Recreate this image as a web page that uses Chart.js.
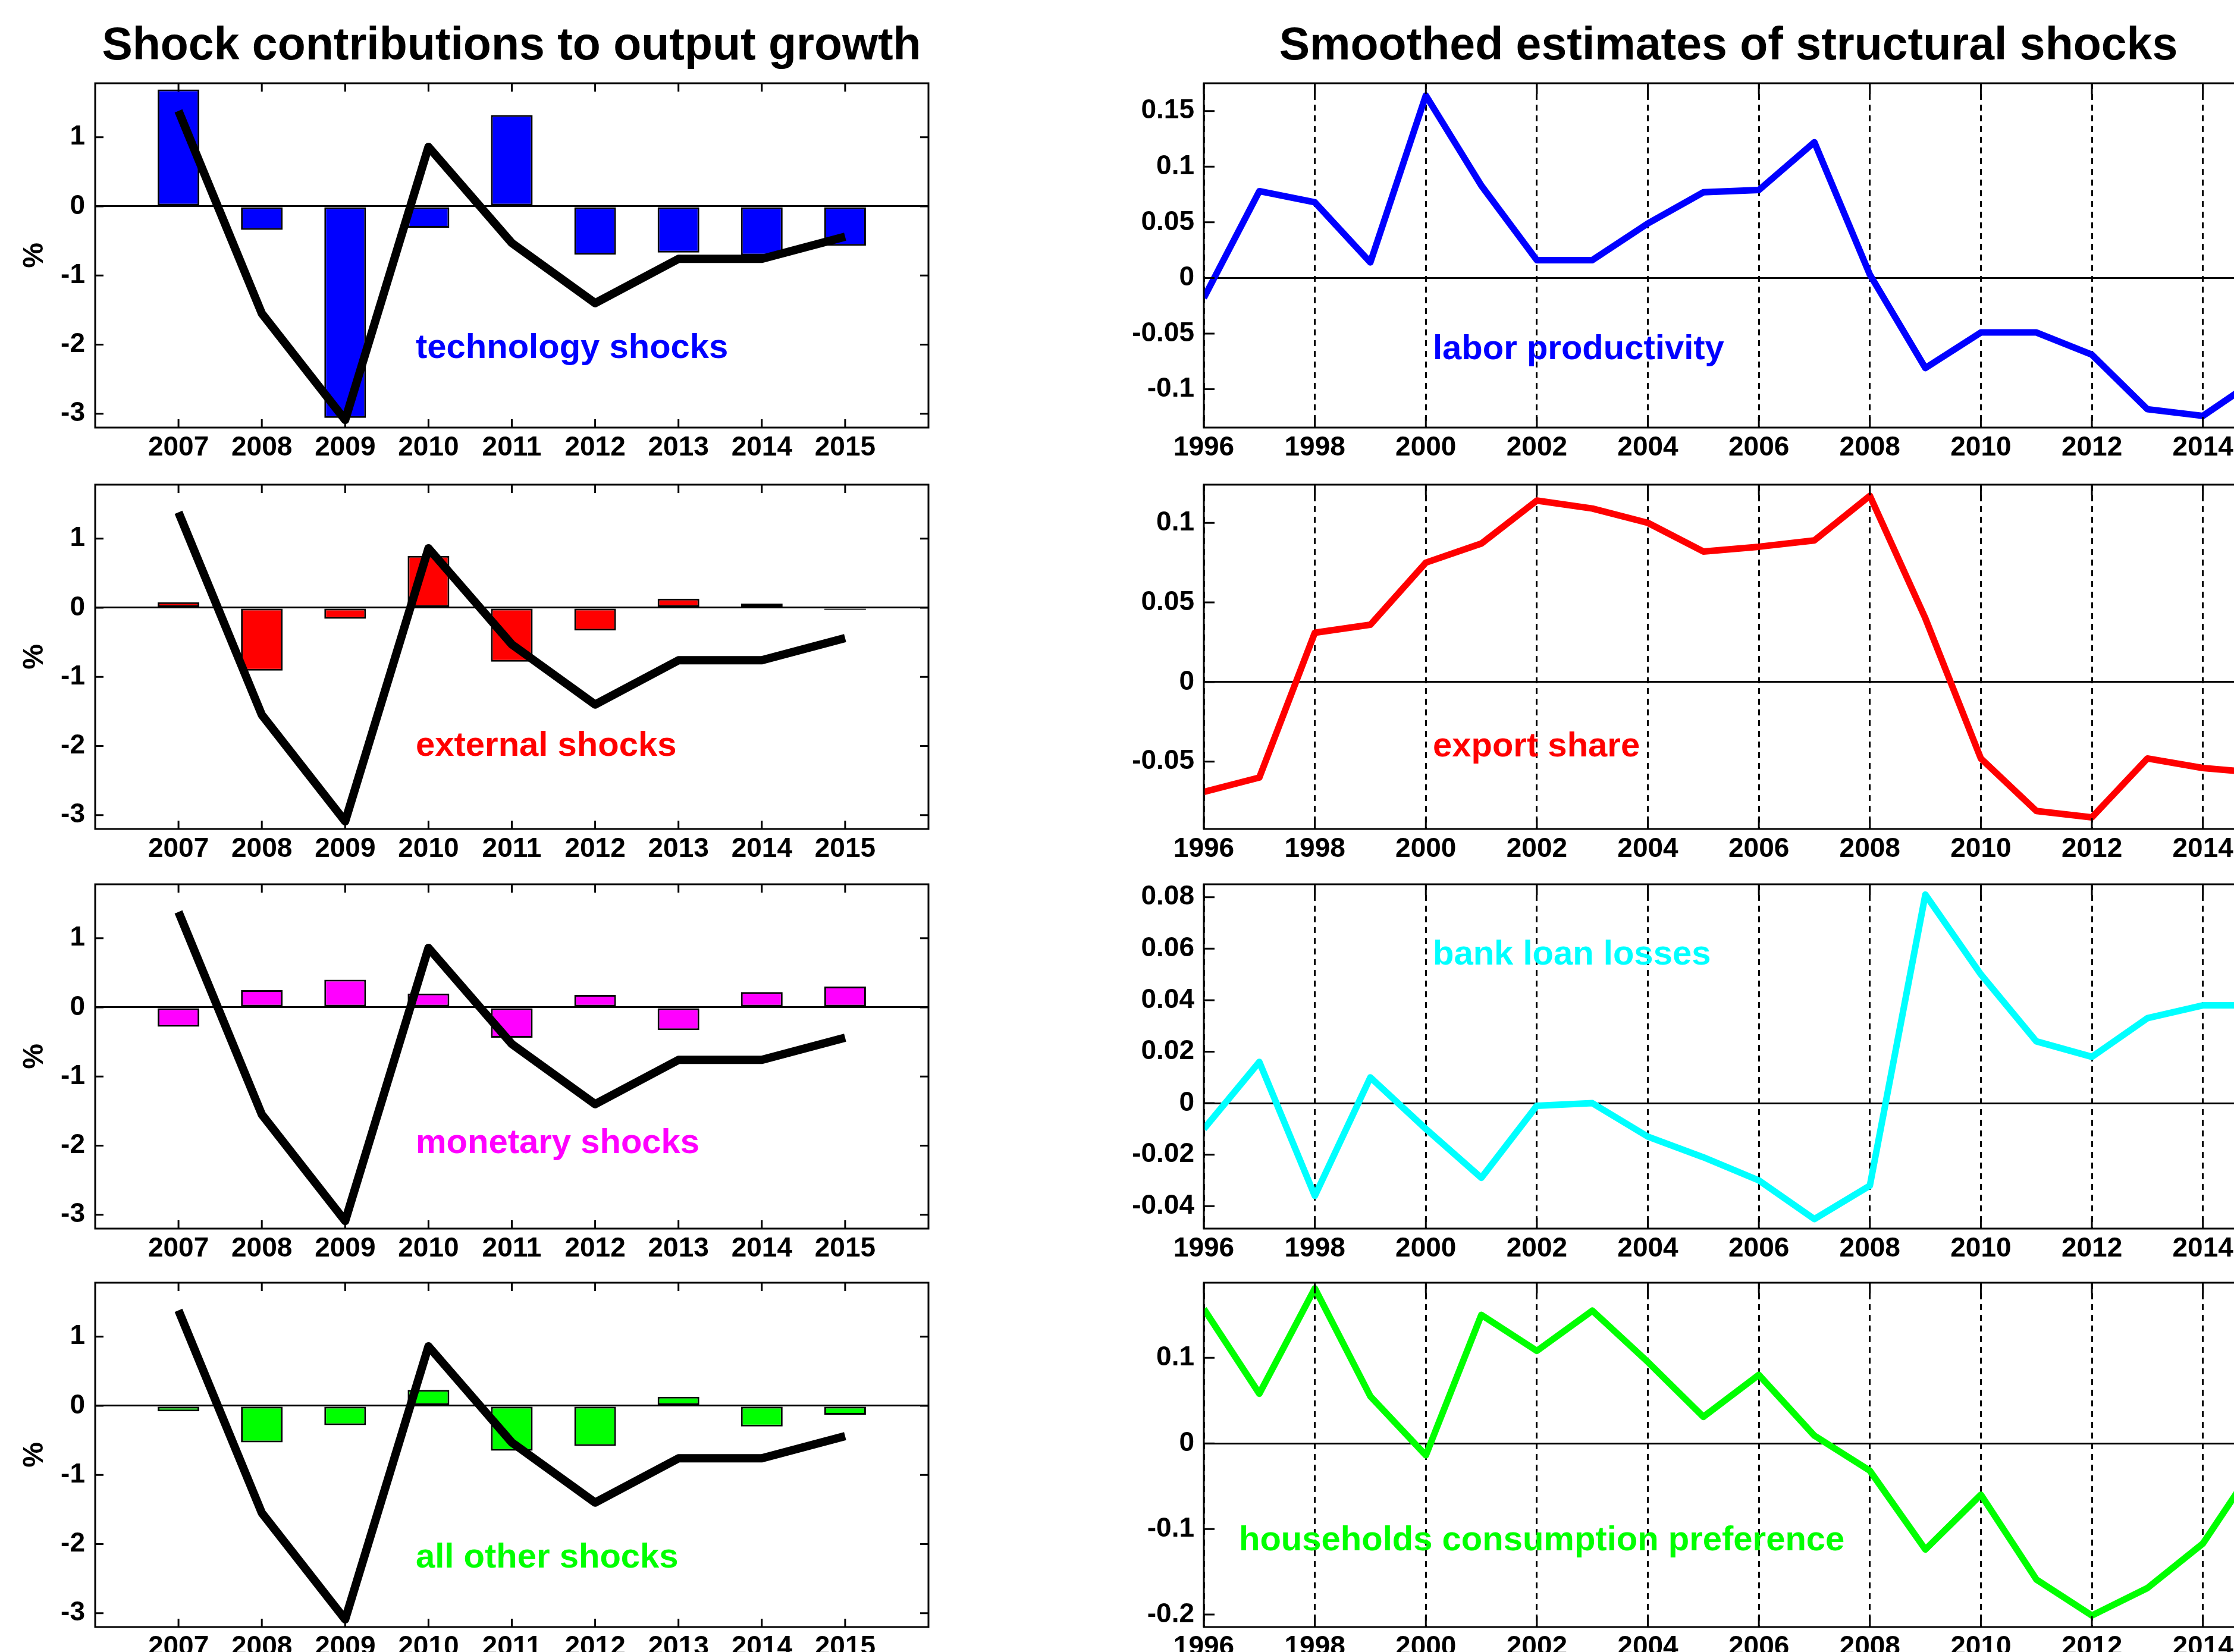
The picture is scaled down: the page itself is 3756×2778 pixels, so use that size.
<!DOCTYPE html>
<html>
<head>
<meta charset="utf-8">
<script src="https://cdn.jsdelivr.net/npm/chart.js@4.4.1/dist/chart.umd.min.js"></script>
<style>
html,body{margin:0;padding:0;background:#fff;overflow:hidden;width:3756px;height:2778px;position:relative}
canvas{position:absolute}
.t{position:absolute;font-family:"Liberation Sans",Arial,Helvetica,sans-serif;font-weight:bold;white-space:nowrap;line-height:1}
</style>
</head>
<body>
<div class="t" style="left:0;width:1720px;text-align:center;top:35px;font-size:77px;color:#000">Shock contributions to output growth</div>
<div class="t" style="left:1906px;width:2000px;text-align:center;top:35px;font-size:77px;color:#000">Smoothed estimates of structural shocks</div>

<canvas id="L1" width="1600" height="689" style="left:0;top:120px"></canvas>
<canvas id="L2" width="1600" height="689" style="left:0;top:795px"></canvas>
<canvas id="L3" width="1600" height="689" style="left:0;top:1467px"></canvas>
<canvas id="L4" width="1600" height="689" style="left:0;top:2137px"></canvas>
<canvas id="R1" width="1987" height="689" style="left:1850px;top:120px"></canvas>
<canvas id="R2" width="1987" height="689" style="left:1850px;top:795px"></canvas>
<canvas id="R3" width="1987" height="689" style="left:1850px;top:1467px"></canvas>
<canvas id="R4" width="1987" height="689" style="left:1850px;top:2137px"></canvas>

<div class="t" style="left:699px;top:553px;font-size:58px;color:#0000FF">technology shocks</div>
<div class="t" style="left:699px;top:1222px;font-size:58px;color:#FF0000">external shocks</div>
<div class="t" style="left:699px;top:1890px;font-size:58px;color:#FF00FF">monetary shocks</div>
<div class="t" style="left:699px;top:2587px;font-size:58px;color:#00FF00">all other shocks</div>
<div class="t" style="left:2409px;top:555px;font-size:58px;color:#0000FF">labor productivity</div>
<div class="t" style="left:2409px;top:1223px;font-size:58px;color:#FF0000">export share</div>
<div class="t" style="left:2409px;top:1573px;font-size:58px;color:#00FFFF">bank loan losses</div>
<div class="t" style="left:2083px;top:2558px;font-size:58px;color:#00FF00">households consumption preference</div>

<script>
// ---------- data ----------
const yearsLeft = [2007, 2008, 2009, 2010, 2011, 2012, 2013, 2014, 2015];
const outputGrowth = [1.38, -1.55, -3.09, 0.86, -0.53, -1.40, -0.76, -0.76, -0.44];
const technologyShocks = [1.69, -0.34, -3.06, -0.31, 1.32, -0.70, -0.67, -0.71, -0.57];
const externalShocks = [0.08, -0.91, -0.16, 0.75, -0.78, -0.33, 0.13, 0.06, -0.03];
const monetaryShocks = [-0.28, 0.25, 0.40, 0.20, -0.44, 0.18, -0.33, 0.22, 0.30];
const otherShocks = [-0.08, -0.53, -0.28, 0.23, -0.65, -0.58, 0.13, -0.30, -0.13];

const yearsRight = [1996, 1997, 1998, 1999, 2000, 2001, 2002, 2003, 2004, 2005,
                    2006, 2007, 2008, 2009, 2010, 2011, 2012, 2013, 2014, 2015];
const laborProductivity = [-0.018, 0.078, 0.068, 0.014, 0.164, 0.083, 0.016, 0.016, 0.049, 0.077,
                           0.079, 0.122, 0.003, -0.081, -0.049, -0.049, -0.069, -0.118, -0.124, -0.090];
const exportShare = [-0.069, -0.060, 0.031, 0.036, 0.075, 0.087, 0.114, 0.109, 0.100, 0.082,
                     0.085, 0.089, 0.117, 0.040, -0.048, -0.081, -0.085, -0.048, -0.054, -0.057];
const bankLoanLosses = [-0.010, 0.016, -0.036, 0.010, -0.010, -0.029, -0.001, 0.000, -0.013, -0.021,
                        -0.030, -0.045, -0.032, 0.081, 0.050, 0.024, 0.018, 0.033, 0.038, 0.038];
const consumptionPreference = [0.157, 0.058, 0.181, 0.055, -0.014, 0.150, 0.108, 0.155, 0.095, 0.031,
                               0.080, 0.009, -0.032, -0.124, -0.060, -0.159, -0.201, -0.169, -0.117, -0.020];

const leftYTicks = [-3, -2, -1, 0, 1];
const rightXTicks = [1996, 1998, 2000, 2002, 2004, 2006, 2008, 2010, 2012, 2014];
const laborTicks = [-0.1, -0.05, 0, 0.05, 0.1, 0.15];
const exportTicks = [-0.05, 0, 0.05, 0.1];
const bankTicks = [-0.04, -0.02, 0, 0.02, 0.04, 0.06, 0.08];
const consumptionTicks = [-0.2, -0.1, 0, 0.1];

// ---------- styling helpers ----------
const FONT = '"Liberation Sans", Arial, Helvetica, sans-serif';
const tickFont = {family: FONT, size: 46, weight: 'bold'};

const framePlugin = {
  id: 'frame',
  afterDatasetsDraw(chart, args, opts) {
    const {ctx, chartArea: a} = chart;
    const x = chart.scales.x, y = chart.scales.y;
    const L = opts.tickLen || 14;
    ctx.save();
    ctx.setLineDash([]);
    ctx.strokeStyle = '#000';
    ctx.lineWidth = 3;
    ctx.strokeRect(a.left, a.top, a.right - a.left, a.bottom - a.top);
    ctx.beginPath();
    x.ticks.forEach(t => {
      const px = x.getPixelForValue(t.value);
      ctx.moveTo(px, a.bottom); ctx.lineTo(px, a.bottom - L);
      ctx.moveTo(px, a.top); ctx.lineTo(px, a.top + L);
    });
    y.ticks.forEach(t => {
      const py = y.getPixelForValue(t.value);
      ctx.moveTo(a.left, py); ctx.lineTo(a.left + L, py);
      ctx.moveTo(a.right, py); ctx.lineTo(a.right - L, py);
    });
    ctx.stroke();
    ctx.restore();
  }
};

const zeroLine = c => (c.tick && c.tick.value === 0) ? '#000' : 'rgba(0,0,0,0)';
const pts = (xs, ys) => xs.map((v, i) => ({x: v, y: ys[i]}));
const fitX = s => { s.height = 90; s.paddingLeft = 0; s.paddingRight = 0; s.paddingTop = 0; s.paddingBottom = 0; };
const fitY = w => s => { s.width = w; s.paddingLeft = 0; s.paddingRight = 0; s.paddingTop = 0; s.paddingBottom = 0; };

function leftPanel(id, shocks, color) {
  new Chart(document.getElementById(id), {
    type: 'bar',
    data: {
      datasets: [
        {type: 'line', data: pts(yearsLeft, outputGrowth), borderColor: '#000', borderWidth: 14,
         pointRadius: 0, tension: 0, fill: false, borderJoinStyle: 'round', borderCapStyle: 'butt', order: 0},
        {type: 'bar', data: pts(yearsLeft, shocks), backgroundColor: color, borderColor: '#000',
         borderWidth: 3, borderSkipped: false, barPercentage: 0.5, categoryPercentage: 1, order: 1}
      ]
    },
    options: {
      responsive: false, animation: false, devicePixelRatio: 1,
      layout: {padding: {top: 20, right: 39, left: 0, bottom: 0}},
      plugins: {legend: {display: false}, tooltip: {enabled: false}, frame: {tickLen: 14}},
      scales: {
        x: {
          type: 'linear', min: 2006, max: 2016, offset: false,
          afterBuildTicks: s => { s.ticks = yearsLeft.map(v => ({value: v})); },
          afterFit: fitX,
          grid: {display: false, drawTicks: false, offset: false},
          border: {display: false},
          ticks: {font: tickFont, color: '#000', padding: 7, maxRotation: 0, autoSkip: false,
                  callback: v => String(v)}
        },
        y: {
          type: 'linear', min: -3.2, max: 1.78,
          afterBuildTicks: s => { s.ticks = leftYTicks.map(v => ({value: v})); },
          afterFit: fitY(160),
          grid: {drawTicks: false, color: zeroLine, lineWidth: 3},
          border: {display: false},
          ticks: {font: tickFont, color: '#000', padding: 17, callback: v => String(v)},
          title: {display: true, text: '%', color: '#000', font: {family: FONT, size: 48, weight: 'bold'},
                  padding: {top: 30, bottom: 0}}
        }
      }
    },
    plugins: [framePlugin]
  });
}

function rightPanel(id, series, color, yMin, yMax, yTicks) {
  new Chart(document.getElementById(id), {
    type: 'line',
    data: {
      datasets: [
        {data: pts(yearsRight, series), borderColor: color, borderWidth: 11, pointRadius: 0,
         tension: 0, fill: false, borderJoinStyle: 'round', borderCapStyle: 'butt'}
      ]
    },
    options: {
      responsive: false, animation: false, devicePixelRatio: 1,
      layout: {padding: {top: 20, right: 40, left: 0, bottom: 0}},
      plugins: {legend: {display: false}, tooltip: {enabled: false}, frame: {tickLen: 18}},
      scales: {
        x: {
          type: 'linear', min: 1996, max: 2015,
          afterBuildTicks: s => { s.ticks = rightXTicks.map(v => ({value: v})); },
          afterFit: fitX,
          grid: {display: true, drawTicks: false, color: '#000', lineWidth: 3, borderDash: [10, 8]},
          border: {display: false, dash: [10, 8]},
          ticks: {font: tickFont, color: '#000', padding: 7, maxRotation: 0, autoSkip: false,
                  callback: v => String(v)}
        },
        y: {
          type: 'linear', min: yMin, max: yMax,
          afterBuildTicks: s => { s.ticks = yTicks.map(v => ({value: v})); },
          afterFit: fitY(174),
          grid: {drawTicks: false, color: zeroLine, lineWidth: 3},
          border: {display: false},
          ticks: {font: tickFont, color: '#000', padding: 16, callback: v => String(v)}
        }
      }
    },
    plugins: [framePlugin]
  });
}

leftPanel('L1', technologyShocks, '#0000FF');
leftPanel('L2', externalShocks, '#FF0000');
leftPanel('L3', monetaryShocks, '#FF00FF');
leftPanel('L4', otherShocks, '#00FF00');

rightPanel('R1', laborProductivity, '#0000FF', -0.1345, 0.175, laborTicks);
rightPanel('R2', exportShare, '#FF0000', -0.0923, 0.124, exportTicks);
rightPanel('R3', bankLoanLosses, '#00FFFF', -0.0487, 0.085, bankTicks);
rightPanel('R4', consumptionPreference, '#00FF00', -0.2145, 0.1876, consumptionTicks);
</script>
</body>
</html>
